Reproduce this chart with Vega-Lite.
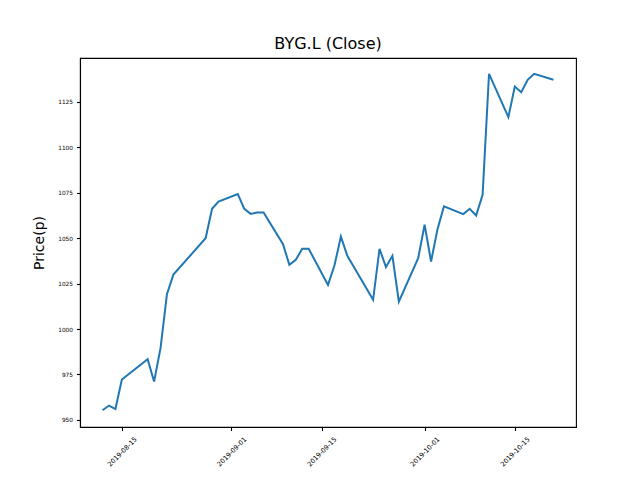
{
  "$schema": "https://vega.github.io/schema/vega-lite/v6.json",
  "width": 496,
  "height": 369,
  "autosize": {"type": "none"},
  "padding": {"left": 80, "top": 58, "right": 64, "bottom": 53},
  "background": "white",
  "config": {
    "font": "DejaVu Sans",
    "view": {"stroke": "black", "strokeWidth": 1.1},
    "axis": {"grid": false, "domainColor": "black", "tickColor": "black", "labelColor": "black", "titleColor": "black", "labelFont": "DejaVu Sans", "titleFont": "DejaVu Sans", "tickSize": 3.5, "tickWidth": 1.1, "domainWidth": 1.1}
  },
  "title": {"text": "BYG.L (Close)", "fontSize": 16, "fontWeight": "normal", "font": "DejaVu Sans", "color": "black", "anchor": "middle", "baseline": "alphabetic", "offset": -7},
  "data": {"values": [
    {"date": "2019-08-12", "close": 955.3},
    {"date": "2019-08-13", "close": 957.9},
    {"date": "2019-08-14", "close": 956.0},
    {"date": "2019-08-15", "close": 972.2},
    {"date": "2019-08-19", "close": 983.4},
    {"date": "2019-08-20", "close": 971.1},
    {"date": "2019-08-21", "close": 989.5},
    {"date": "2019-08-22", "close": 1019.2},
    {"date": "2019-08-23", "close": 1030.0},
    {"date": "2019-08-28", "close": 1050.0},
    {"date": "2019-08-29", "close": 1066.2},
    {"date": "2019-08-30", "close": 1070.2},
    {"date": "2019-09-02", "close": 1074.3},
    {"date": "2019-09-03", "close": 1066.2},
    {"date": "2019-09-04", "close": 1063.4},
    {"date": "2019-09-05", "close": 1064.2},
    {"date": "2019-09-06", "close": 1064.2},
    {"date": "2019-09-09", "close": 1046.9},
    {"date": "2019-09-10", "close": 1035.4},
    {"date": "2019-09-11", "close": 1038.1},
    {"date": "2019-09-12", "close": 1044.2},
    {"date": "2019-09-13", "close": 1044.2},
    {"date": "2019-09-16", "close": 1024.3},
    {"date": "2019-09-17", "close": 1035.0},
    {"date": "2019-09-18", "close": 1050.9},
    {"date": "2019-09-19", "close": 1040.3},
    {"date": "2019-09-23", "close": 1016.1},
    {"date": "2019-09-24", "close": 1044.2},
    {"date": "2019-09-25", "close": 1034.1},
    {"date": "2019-09-26", "close": 1040.3},
    {"date": "2019-09-27", "close": 1015.1},
    {"date": "2019-09-30", "close": 1039.0},
    {"date": "2019-10-01", "close": 1057.4},
    {"date": "2019-10-02", "close": 1037.2},
    {"date": "2019-10-03", "close": 1055.0},
    {"date": "2019-10-04", "close": 1067.5},
    {"date": "2019-10-07", "close": 1063.3},
    {"date": "2019-10-08", "close": 1066.2},
    {"date": "2019-10-09", "close": 1062.5},
    {"date": "2019-10-10", "close": 1073.9},
    {"date": "2019-10-11", "close": 1140.5},
    {"date": "2019-10-14", "close": 1116.7},
    {"date": "2019-10-15", "close": 1133.5},
    {"date": "2019-10-16", "close": 1130.4},
    {"date": "2019-10-17", "close": 1137.2},
    {"date": "2019-10-18", "close": 1140.5},
    {"date": "2019-10-21", "close": 1137.2}
  ]},
  "mark": {"type": "line", "color": "#1f77b4", "strokeWidth": 2, "clip": true},
  "encoding": {
    "x": {
      "field": "date", "type": "temporal",
      "scale": {"type": "utc", "domain": [
        {"year": 2019, "month": 8, "date": 8, "hours": 12, "utc": true},
        {"year": 2019, "month": 10, "date": 24, "hours": 12, "utc": true}
      ]},
      "axis": {
        "title": null,
        "values": [
          {"year": 2019, "month": 8, "date": 15, "utc": true},
          {"year": 2019, "month": 9, "date": 1, "utc": true},
          {"year": 2019, "month": 9, "date": 15, "utc": true},
          {"year": 2019, "month": 10, "date": 1, "utc": true},
          {"year": 2019, "month": 10, "date": 15, "utc": true}
        ],
        "format": "%Y-%m-%d",
        "labelAngle": -45, "labelAlign": "center", "labelBaseline": "middle",
        "labelPadding": 21, "labelFontSize": 6.6, "labelFlush": false, "labelOverlap": false
      }
    },
    "y": {
      "field": "close", "type": "quantitative",
      "scale": {"domain": [946.1, 1149.2], "zero": false, "nice": false},
      "axis": {
        "title": "Price(p)", "titleFontSize": 14, "titleFontWeight": "normal", "titlePadding": 11,
        "values": [950, 975, 1000, 1025, 1050, 1075, 1100, 1125],
        "format": "d",
        "labelFontSize": 5.8, "labelPadding": 4
      }
    }
  }
}
